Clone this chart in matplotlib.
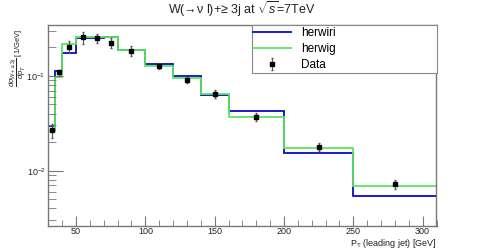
import matplotlib
matplotlib.use("Agg")
import matplotlib.pyplot as plt
import numpy as np

plt.rcParams['font.family'] = ['Liberation Sans', 'DejaVu Sans']
plt.rcParams['mathtext.fontset'] = 'custom'
plt.rcParams['mathtext.rm'] = 'Liberation Sans'
plt.rcParams['mathtext.it'] = 'Liberation Sans:italic'

# bin edges of leading jet pT [GeV]
edges = [30, 35, 40, 50, 60, 70, 80, 100, 120, 140, 160, 200, 250, 310]
herwiri = [0.0293, 0.113, 0.176, 0.250, 0.250, 0.255, 0.187, 0.134, 0.100, 0.063, 0.0427, 0.0153, 0.00537]
herwig = [0.0263, 0.097, 0.216, 0.260, 0.260, 0.258, 0.187, 0.128, 0.096, 0.065, 0.0366, 0.0172, 0.00684]
data = [0.0269, 0.109, 0.204, 0.256, 0.250, 0.225, 0.184, 0.128, 0.0908, 0.0645, 0.0372, 0.0179, 0.0072]
data_relerr = [0.17, 0.05, 0.14, 0.14, 0.10, 0.12, 0.12, 0.08, 0.08, 0.10, 0.10, 0.10, 0.12]

edges_arr = np.array(edges)
centers = 0.5 * (edges_arr[1:] + edges_arr[:-1])
data_arr = np.array(data)
errs = data_arr * np.array(data_relerr)

fig = plt.figure(figsize=(4.85, 2.52), dpi=100)
ax = fig.add_axes([0.0996, 0.103, 0.8004, 0.798])

ax.stairs(herwiri, edges, baseline=None, color='#0a0ac8', lw=1.3, label='herwiri')
ax.stairs(herwig, edges, baseline=None, color='#5ce65c', lw=1.3, label='herwig')
ax.errorbar(centers, data, yerr=errs, fmt='s', color='black', ms=3.5,
            elinewidth=0.8, ecolor='#555555', capsize=1, label='Data')

ax.set_yscale('log')
ax.set_xlim(30, 310)
ax.set_ylim(0.0026, 0.346)

for s in ax.spines.values():
    s.set_color('#777777')
    s.set_linewidth(1.0)

ax.set_xticks([50, 100, 150, 200, 250, 300])
ax.set_xticks(np.arange(40, 311, 10), minor=True)
ax.tick_params(axis='both', which='both', direction='in', colors='#777777',
               labelcolor='#222222', labelsize=6.5, top=False, right=False)
ax.tick_params(axis='x', which='major', length=7, pad=1)
ax.tick_params(axis='x', which='minor', length=4)
ax.tick_params(axis='y', which='major', length=11, pad=2)
ax.tick_params(axis='y', which='minor', length=6)
ax.yaxis.set_minor_formatter(matplotlib.ticker.NullFormatter())

ax.text(1.0, -0.085, r'P$_{\rm T}$ (leading jet) [GeV]', transform=ax.transAxes,
        ha='right', va='center', fontsize=6.5, color='#222222')
fig.text(0.037, 0.77, r'$\dfrac{d\sigma_{W+\geq3j}}{dp_T}$ [1/GeV]', rotation=90,
         ha='center', va='center', fontsize=5.5, color='#222222')
fig.text(0.498, 0.965, 'W(→ν l)+≥ 3j at ' + r'$\sqrt{s}$' + '=7TeV',
         ha='center', va='center', fontsize=9, color='#222222')

leg = ax.legend(loc='upper left', bbox_to_anchor=(0.524, 0.751, 0.476, 0.249),
                mode='expand', borderaxespad=0, fancybox=False, fontsize=8.5,
                handlelength=3.2, labelspacing=0.35, borderpad=0.15,
                handletextpad=0.8, framealpha=1)
leg.get_frame().set_edgecolor('#888888')
leg.get_frame().set_linewidth(0.8)

fig.savefig('out.png', dpi=100)
